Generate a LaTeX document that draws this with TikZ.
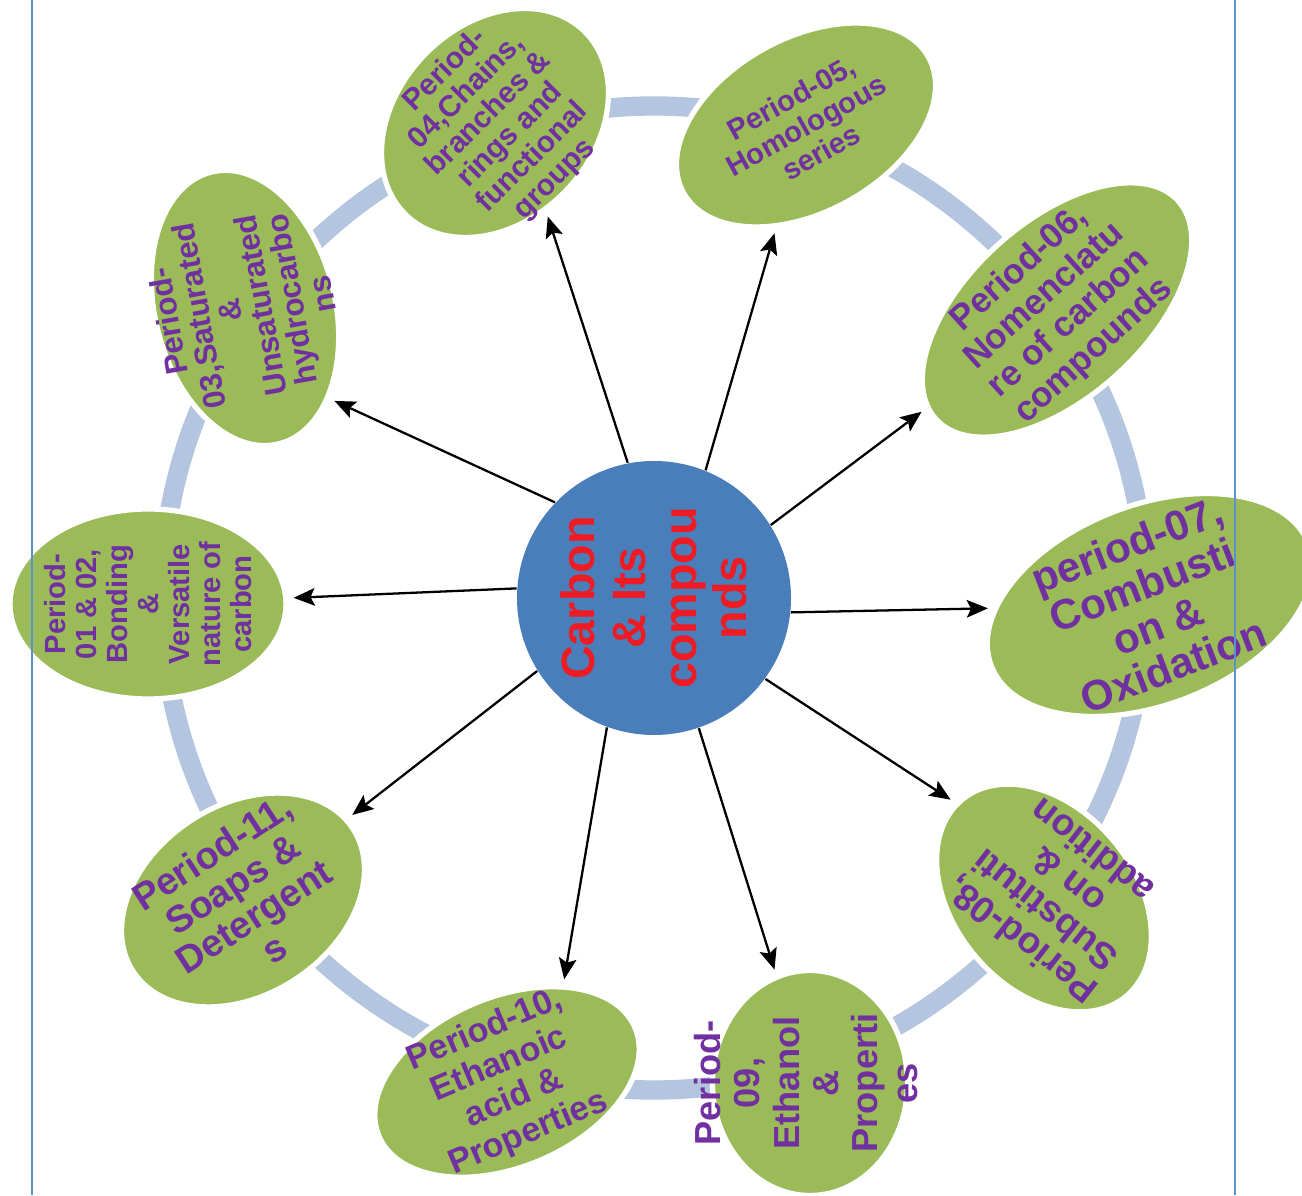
\documentclass[tikz,border=0pt]{standalone}
\usepackage{fontspec}
\setmainfont{Liberation Sans}
\usepackage{xcolor}
\usepackage{tikz}
\usetikzlibrary{shapes.geometric, arrows.meta}

\definecolor{hubblue}{RGB}{74,126,187}
\definecolor{leafgreen}{RGB}{155,187,89}
\definecolor{ringblue}{RGB}{180,197,223}
\definecolor{topicpurple}{RGB}{112,48,160}
\definecolor{hubred}{RGB}{237,28,36}
\definecolor{marginblue}{RGB}{91,146,206}

\newcommand{\topicfont}[2]{\fontsize{#1}{#2}\selectfont\bfseries}

\tikzset{
    hub/.style={circle, fill=hubblue, minimum size=2.74cm, inner sep=0pt},
    bubble/.style={ellipse, fill=leafgreen, draw=white, line width=1.5pt, inner sep=0pt},
    topic/.style={text=topicpurple, align=center, inner sep=0pt},
    ringband/.style={draw=ringblue, line width=5.5pt},
    link/.style={->, line width=0.65pt, shorten >=1.5pt},
    margin/.style={draw=marginblue, line width=0.5pt}
}

\begin{document}
\begin{tikzpicture}[>={Stealth[length=6pt, width=5pt, inset=1.2pt]}]
    \useasboundingbox (0,0) rectangle (13.02,11.95);

    % centre and ring
    \node[hub] (hub) at (6.54,5.97) {};
    \draw[ringband] (hub.center) circle (4.92);
    \node[rotate=90, text=hubred, align=center, inner sep=0pt, font=\topicfont{13.3}{14.4}] (hubtext) at (hub) {Carbon\\\& Its\\compou\\nds};

    % periods round the ring
    \node[bubble, minimum width=2.76cm, minimum height=1.90cm] (p01) at (1.48,5.91) {};
    \node[topic, rotate=90, font=\topicfont{8.3}{8.8}] (t01) at (p01) {Period-\\01 \& 02,\\Bonding\\\&\\Versatile\\nature of\\carbon};

    \node[bubble, rotate=104, minimum width=2.80cm, minimum height=1.80cm] (p03) at (2.45,8.87) {};
    \node[topic, rotate=100, font=\topicfont{8.9}{8.9}] (t03) at (p03) {Period-\\03,Saturated\\\&\\Unsaturated\\hydrocarbo\\ns};

    \node[bubble, rotate=46, minimum width=2.56cm, minimum height=1.96cm] (p04) at (4.95,10.72) {};
    \node[topic, rotate=45, font=\topicfont{8.5}{8.8}] (t04) at (5.00,10.70) {Period-\\04,Chains,\\branches \&\\rings and\\functional\\groups};

    \node[bubble, rotate=29, minimum width=2.80cm, minimum height=1.74cm] (p05) at (8.06,10.70) {};
    \node[topic, rotate=29, font=\topicfont{8.3}{8.8}] (t05) at (p05) {Period-05,\\Homologous\\series};

    \node[bubble, rotate=42, minimum width=3.26cm, minimum height=1.76cm] (p06) at (10.57,8.85) {};
    \node[topic, rotate=42, font=\topicfont{10}{10.5}] (t06) at (p06) {Period-06,\\Nomenclatu\\re of carbon\\compounds};

    \node[bubble, rotate=21, minimum width=3.40cm, minimum height=2.00cm] (p07) at (11.50,5.90) {};
    \node[topic, rotate=21, font=\topicfont{12}{12.3}] (t07) at (p07) {period-07,\\Combusti\\on \&\\Oxidation};

    \node[bubble, rotate=130, minimum width=2.56cm, minimum height=1.80cm] (p08) at (10.44,2.97) {};
    \node[topic, rotate=142, font=\topicfont{10.6}{10.8}] (t08) at (10.56,2.99) {Period-08,\\Substituti\\on \&\\addition};

    \node[bubble, rotate=90, minimum width=2.25cm, minimum height=1.95cm] (p09) at (8.10,1.12) {};
    \node[topic, rotate=90, font=\topicfont{10.3}{11.2}] (t09) at (8.06,1.12) {Period-\\09,\\Ethanol\\\&\\Properti\\es};

    \node[bubble, rotate=23, minimum width=2.78cm, minimum height=1.70cm] (p10) at (5.07,1.13) {};
    \node[topic, rotate=23, font=\topicfont{9.7}{10.6}] (t10) at (p10) {Period-10,\\Ethanoic\\acid \&\\Properties};

    \node[bubble, rotate=33, minimum width=2.62cm, minimum height=1.90cm] (p11) at (2.43,2.95) {};
    \node[topic, rotate=33, font=\topicfont{10.8}{10.9}] (t11) at (p11) {Period-11,\\Soaps \&\\Detergent\\s};

    % arrows out of the centre
    \draw[link] (hub.176) -- (p01);
    \draw[link] (hub.136) -- (p03.-151);
    \draw[link] (hub.101) -- (p04.-106);
    \draw[link] (hub.68) -- (p05);
    \draw[link] (hub.32) -- (p06);
    \draw[link] (hub.-6) -- (p07);
    \draw[link] (hub.-36) -- (p08.3);
    \draw[link] (hub.-71) -- (p09);
    \draw[link] (hub.-110) -- (p10.37);
    \draw[link] (hub.-148) -- (p11);

    % page margins
    \draw[margin] (0.32,0) -- (0.32,11.95);
    \draw[margin] (12.35,0) -- (12.35,11.95);
\end{tikzpicture}
\end{document}
